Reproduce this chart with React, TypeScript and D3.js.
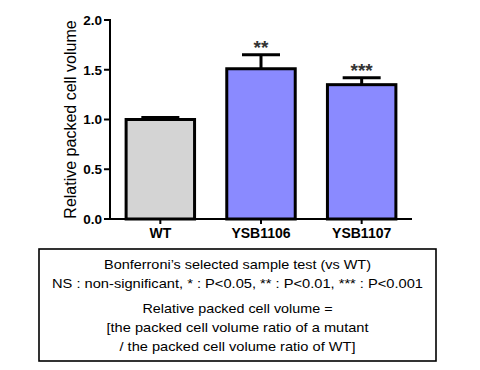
import React, { useEffect, useRef } from 'react';
import * as d3 from 'd3';

const categories = ['WT', 'YSB1106', 'YSB1107'];
const values = [1.0, 1.51, 1.35];
const errors = [0.02, 0.14, 0.07];
const stars = ['', '**', '***'];
const barColors = ['#d4d4d4', '#8a8aff', '#8a8aff'];
const yTicks = [0, 0.5, 1.0, 1.5, 2.0];
const noteLines = [
  'Bonferroni\u2019s selected sample test (vs WT)',
  'NS : non-significant, * : P<0.05, ** : P<0.01, *** : P<0.001',
  'Relative packed cell volume =',
  '[the packed cell volume ratio of a mutant',
  '/ the packed cell volume ratio of WT]',
];
const noteWidths = [267, 371, 190, 262, 236];

const App = () => {
  const ref = useRef(null);

  useEffect(() => {
    if (!ref.current) return;
    const svg = d3.select(ref.current);
    svg.selectAll('*').remove();

    const x0 = 110, x1 = 412, yTop = 20, yBot = 219;
    const x = d3.scaleBand().domain(categories).range([x0, x1]).paddingInner(0.32).paddingOuter(0.16);
    const y = d3.scaleLinear().domain([0, 2]).range([yBot, yTop]);
    const data = categories.map((c, i) => ({ c, v: values[i], e: errors[i], s: stars[i], col: barColors[i] }));

    const g = svg.append('g');

    // error bars (behind bars)
    const capW = 38;
    g.selectAll('.err')
      .data(data)
      .enter().append('g')
      .each(function (d) {
        const cx = (x(d.c) as number) + x.bandwidth() / 2;
        const sel = d3.select(this);
        sel.append('line')
          .attr('x1', cx).attr('x2', cx)
          .attr('y1', y(d.v)).attr('y2', y(d.v + d.e))
          .attr('stroke', '#000').attr('stroke-width', 3);
        sel.append('line')
          .attr('x1', cx - capW / 2).attr('x2', cx + capW / 2)
          .attr('y1', y(d.v + d.e)).attr('y2', y(d.v + d.e))
          .attr('stroke', '#000').attr('stroke-width', 3);
      });

    g.selectAll('.bar')
      .data(data)
      .enter().append('rect')
      .attr('x', d => x(d.c) as number)
      .attr('width', x.bandwidth())
      .attr('y', d => y(d.v))
      .attr('height', d => yBot - y(d.v))
      .attr('fill', d => d.col)
      .attr('stroke', '#000')
      .attr('stroke-width', 3);

    g.selectAll('.star')
      .data(data)
      .enter().append('text')
      .attr('x', d => (x(d.c) as number) + x.bandwidth() / 2)
      .attr('y', d => y(d.v + d.e) - 1)
      .attr('text-anchor', 'middle')
      .attr('font-family', 'Liberation Sans, Arial, sans-serif')
      .attr('font-size', 19)
      .attr('font-weight', 'bold')
      .attr('fill', '#333')
      .text(d => d.s);

    // y axis
    g.append('line')
      .attr('x1', x0).attr('x2', x0).attr('y1', yTop - 1).attr('y2', yBot + 1)
      .attr('stroke', '#000').attr('stroke-width', 2);
    g.selectAll('.ytick')
      .data(yTicks)
      .enter().append('line')
      .attr('x1', x0 - 6).attr('x2', x0)
      .attr('y1', d => y(d)).attr('y2', d => y(d))
      .attr('stroke', '#000').attr('stroke-width', 2);
    g.selectAll('.ylab')
      .data(yTicks)
      .enter().append('text')
      .attr('x', x0 - 8)
      .attr('y', d => y(d))
      .attr('dy', '0.36em')
      .attr('text-anchor', 'end')
      .attr('font-family', 'Liberation Sans, Arial, sans-serif')
      .attr('font-weight', 'bold')
      .attr('font-size', 13.5)
      .text(d => d3.format('.1f')(d));

    // x axis
    g.append('line')
      .attr('x1', x0).attr('x2', x1).attr('y1', yBot).attr('y2', yBot)
      .attr('stroke', '#000').attr('stroke-width', 2);
    g.selectAll('.xtick')
      .data(data)
      .enter().append('line')
      .attr('x1', d => (x(d.c) as number) + x.bandwidth() / 2)
      .attr('x2', d => (x(d.c) as number) + x.bandwidth() / 2)
      .attr('y1', yBot).attr('y2', yBot + 5)
      .attr('stroke', '#000').attr('stroke-width', 2);
    g.selectAll('.xlab')
      .data(data)
      .enter().append('text')
      .attr('x', d => (x(d.c) as number) + x.bandwidth() / 2)
      .attr('y', 238)
      .attr('text-anchor', 'middle')
      .attr('font-family', 'Liberation Sans, Arial, sans-serif')
      .attr('font-weight', 'bold')
      .attr('font-size', 14)
      .text(d => d.c);

    // y title
    g.append('text')
      .attr('transform', `translate(76,${(yTop + yBot) / 2}) rotate(-90)`)
      .attr('text-anchor', 'middle')
      .attr('font-family', 'Liberation Sans, Arial, sans-serif')
      .attr('font-size', 16)
      .text('Relative packed cell volume');

    // note box
    svg.append('rect')
      .attr('x', 39).attr('y', 249).attr('width', 397).attr('height', 112)
      .attr('fill', 'none').attr('stroke', '#000').attr('stroke-width', 1.6);
    const baselines = [269, 288, 313, 332, 351];
    svg.selectAll('.note')
      .data(noteLines)
      .enter().append('text')
      .attr('x', 237.5)
      .attr('y', (d, i) => baselines[i])
      .attr('text-anchor', 'middle')
      .attr('font-family', 'Liberation Sans, Arial, sans-serif')
      .attr('font-size', 13)
      .attr('textLength', (d, i) => noteWidths[i])
      .attr('lengthAdjust', 'spacingAndGlyphs')
      .text(d => d);
  }, []);

  return (
    <svg ref={ref} width={480} height={370} style={{ position: 'absolute', left: 0, top: 0, background: '#fff' }} />
  );
};

export default App;
